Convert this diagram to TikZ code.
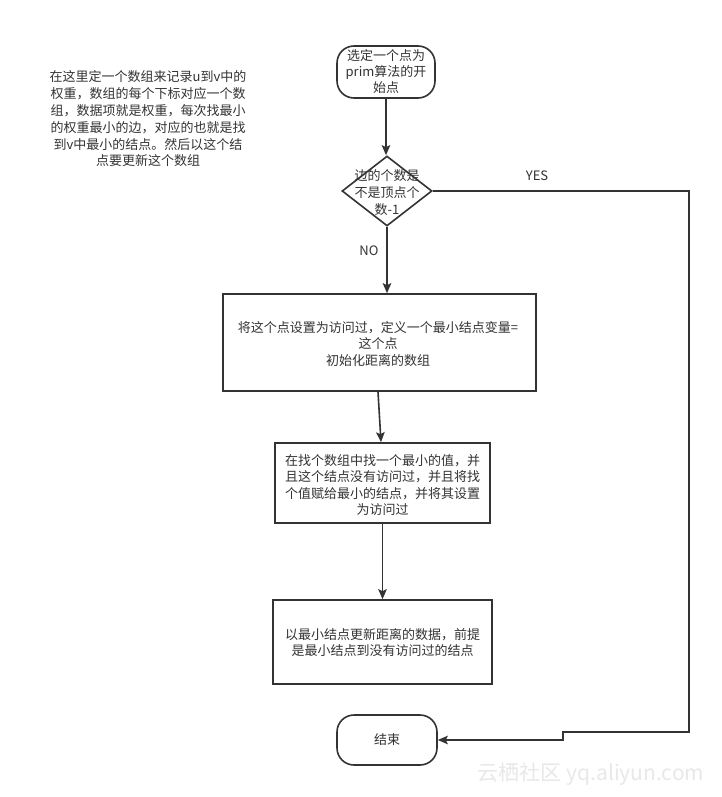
\documentclass[tikz,border=0pt]{standalone}
\usepackage{fontspec}
\setmainfont{Noto Sans CJK SC}
\usetikzlibrary{arrows.meta,shapes.geometric}
\definecolor{ink}{HTML}{333333}
\tikzset{
  base/.style={draw=ink,line width=1.6pt,align=center,font=\fontsize{13}{16.5}\selectfont,text=ink,inner sep=0pt},
  boxnode/.style={base,rectangle},
  roundnode/.style={base,rectangle,rounded corners=17pt},
  decnode/.style={draw=ink,line width=1.6pt,diamond,inner sep=0pt,minimum width=90pt,minimum height=70pt},
  txt/.style={align=center,font=\fontsize{13}{16.5}\selectfont,text=ink,inner sep=0pt},
  arr/.style={draw=ink,line width=1.6pt,-{Stealth[length=10pt,width=8.5pt,inset=2pt]}},
}
\begin{document}
\begin{tikzpicture}[x=1pt,y=-1pt]
\useasboundingbox[fill=white] (0,0) rectangle (721,797);
% note
\node[txt,font=\fontsize{13}{16.8}\selectfont] (note) at (148,119) {在这里定一个数组来记录u到v中的\\权重，数组的每个下标对应一个数\\组，数据项就是权重，每次找最小\\的权重最小的边，对应的也就是找\\到v中最小的结点。然后以这个结\\点要更新这个数组};
% nodes
\node[roundnode,minimum width=98pt,minimum height=52pt,font=\fontsize{13}{16}\selectfont] (start) at (386,72) {选定一个点为\\prim算法的开\\始点};
\node[decnode] (dec) at (387,191) {};
\node[txt,font=\fontsize{13}{17}\selectfont] (dectext) at (387,193) {边的个数是\\不是顶点个\\数-1};
\node[boxnode,minimum width=313pt,minimum height=97pt] (box1) at (379.5,342.5) {};
\node[txt] (box1text) at (378,344) {将这个点设置为访问过，定义一个最小结点变量=\\这个点\\初始化距离的数组};
\node[boxnode,minimum width=215pt,minimum height=80pt] (box2) at (382.5,483) {};
\node[txt] (box2text) at (382.5,485) {在找个数组中找一个最小的值，并\\且这个结点没有访问过，并且将找\\个值赋给最小的结点，并将其设置\\为访问过};
\node[boxnode,minimum width=219pt,minimum height=84pt] (box3) at (382.5,642) {};
\node[txt] (box3text) at (382.5,642.5) {以最小结点更新距离的数据，前提\\是最小结点到没有访问过的结点};
\node[roundnode,minimum width=100pt,minimum height=50pt] (end) at (387,740) {结束};
% labels
\node[txt] (yes) at (537,176) {YES};
\node[txt] (no) at (369,251) {NO};
% connectors
\draw[arr] (start.south) -- (start.south |- dec.north);
\draw[arr] (dec.south) -- (dec.south |- box1.north);
\draw[arr] ([xshift=-1.5pt]box1.south) -- ([xshift=-1.5pt]box2.north);
\draw[arr] (box2.south) -- (box3.north);
\coordinate (c1) at (689,191);
\coordinate (c2) at (689,732);
\coordinate (c3) at (563,732);
\coordinate (c4) at (563,740);
\draw[arr,line join=miter] (dec.east) -- (c1) -- (c2) -- (c3) -- (c4) -- (end.east);
% watermark
\node[inner sep=0pt,text=gray!18,font=\fontsize{21}{21}\selectfont] (wm) at (591,774) {云栖社区 yq.aliyun.com};
\end{tikzpicture}
\end{document}
